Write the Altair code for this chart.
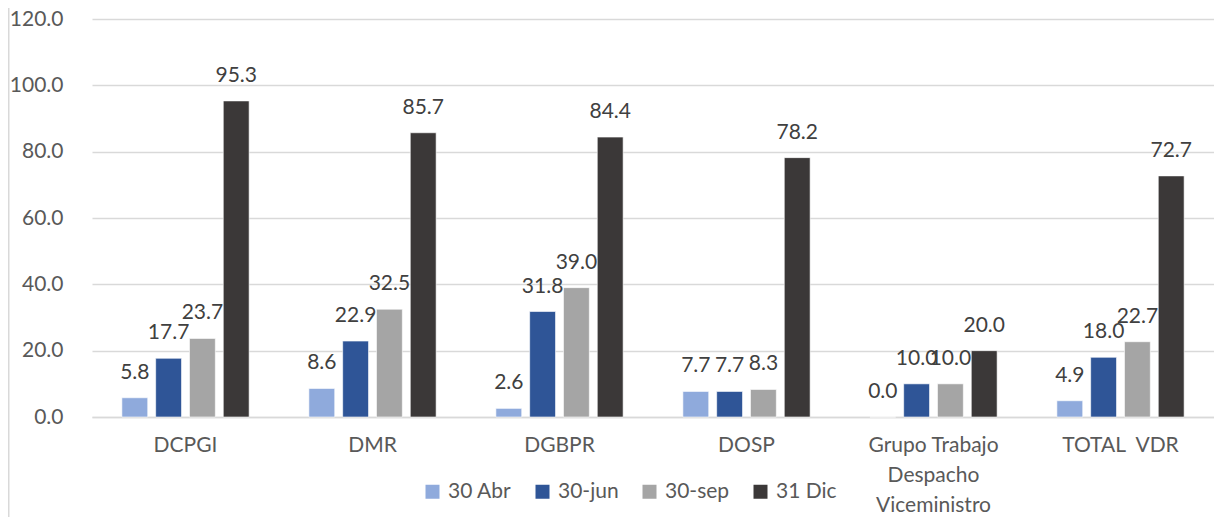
import altair as alt
import pandas as pd

categories = ["DCPGI", "DMR", "DGBPR", "DOSP", "Grupo Trabajo|Despacho|Viceministro", "TOTAL\u00a0 VDR"]
series = ["30 Abr", "30-jun", "30-sep", "31 Dic"]
abr = [5.8, 8.6, 2.6, 7.7, 0.0, 4.9]
jun = [17.7, 22.9, 31.8, 7.7, 10.0, 18.0]
sep = [23.7, 32.5, 39.0, 8.3, 10.0, 22.7]
dic = [95.3, 85.7, 84.4, 78.2, 20.0, 72.7]
colors = ["#8FAADC", "#2F5597", "#A5A5A5", "#3B3838"]
y_ticks = [0, 20, 40, 60, 80, 100, 120]

rows = []
for i, c in enumerate(categories):
    for s, vals in zip(series, [abr, jun, sep, dic]):
        rows.append({"cat": c, "serie": s, "val": vals[i]})
df = pd.DataFrame(rows)

FONT = "Lato"
LBL = "#595959"
FS = 21

x = alt.X(
    "cat:N", sort=categories,
    scale=alt.Scale(paddingInner=0.277, paddingOuter=0.1385),
    axis=alt.Axis(title=None, labelAngle=0, labelExpr="split(datum.label, '|')",
                  labelFont=FONT, labelFontSize=FS, labelColor=LBL, labelPadding=17,
                  labelLineHeight=30, ticks=False, domain=True,
                  domainColor="#D9D9D9", domainWidth=1.5, grid=False),
)
xo = alt.XOffset("serie:N", sort=series,
                 scale=alt.Scale(paddingInner=0.235, paddingOuter=0.1175))
y = alt.Y(
    "val:Q",
    scale=alt.Scale(domain=[0, 120], nice=False),
    axis=alt.Axis(title=None, values=y_ticks, format=".1f", labelFont=FONT,
                  labelFontSize=FS, labelColor=LBL, gridColor="#D9D9D9", gridWidth=1.5,
                  domain=False, ticks=False, labelPadding=29),
)

base = alt.Chart(df)
bars = base.mark_bar(stroke="white", strokeWidth=1, strokeOpacity=0.6).encode(
    x=x, xOffset=xo, y=y,
    color=alt.Color("serie:N", sort=series,
                    scale=alt.Scale(domain=series, range=colors),
                    legend=alt.Legend(title=None, orient="none", legendX=330, legendY=462,
                                      direction="horizontal", symbolType="square",
                                      symbolSize=196, symbolStrokeWidth=0,
                                      labelFont=FONT, labelFontSize=FS, labelColor=LBL,
                                      columnPadding=20, labelOffset=5)),
)
text = base.mark_text(dy=-25, baseline="middle", font=FONT, fontSize=FS,
                      color="#404040").encode(
    x=x, xOffset=xo, y=y, text=alt.Text("val:Q", format=".1f")
)
border = alt.Chart(alt.Data(values=[{"a": 1}])).mark_rect(
    color="#D9D9D9"
).encode(x=alt.value(-84), x2=alt.value(-82.5), y=alt.value(-19), y2=alt.value(513))

chart = alt.layer(bars, text, border).properties(
    width=1122, height=398,
    padding={"left": 84, "top": 11, "right": 0, "bottom": 100},
    autosize=alt.AutoSizeParams(type="none"),
    background="white",
).configure_view(stroke=None, strokeWidth=0).configure_axisY(domain=False)

chart.save("out.html", embed_options={"renderer": "svg", "actions": False})
